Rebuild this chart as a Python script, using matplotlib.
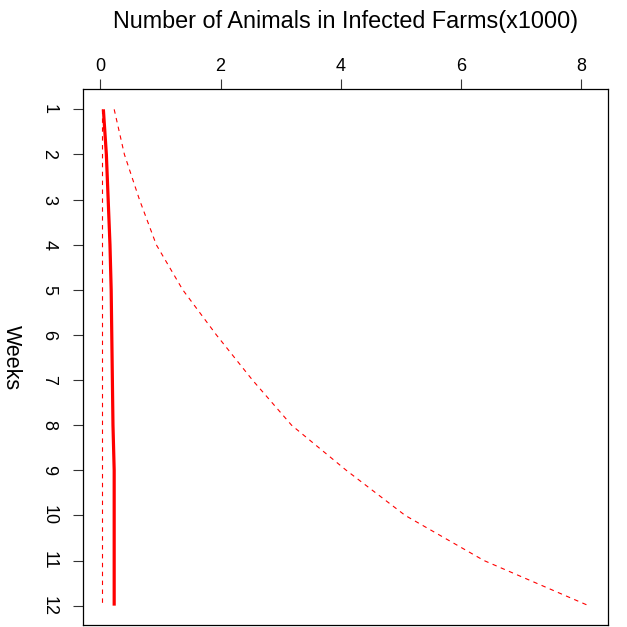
import matplotlib
matplotlib.use("Agg")
import matplotlib.pyplot as plt

weeks = [1, 2, 3, 4, 5, 6, 7, 8, 9, 10, 11, 12]
median = [0.05, 0.10, 0.13, 0.16, 0.18, 0.19, 0.20, 0.21, 0.23, 0.23, 0.23, 0.23]
lower = [0.03, 0.03, 0.03, 0.03, 0.03, 0.03, 0.03, 0.03, 0.03, 0.03, 0.03, 0.03]
upper = [0.23, 0.40, 0.65, 0.93, 1.37, 1.93, 2.53, 3.18, 4.09, 5.07, 6.38, 8.12]
x_ticks = [0, 2, 4, 6, 8]

plt.rcParams['font.family'] = ['Liberation Sans', 'DejaVu Sans']

fig = plt.figure(figsize=(6.27, 6.27), dpi=100)
ax = fig.add_axes([0.1319, 0.0024, 0.8378, 0.8549])

ax.plot(median, weeks, color='#FF0000', lw=2.3, solid_capstyle='butt')
ax.plot(lower, weeks, color='#FF0000', lw=0.8, ls=(0, (4, 4)))
ax.plot(upper, weeks, color='#FF0000', lw=0.8, ls=(0, (4, 4)))

# R-style 4% padding on both axes
xmin = min(lower + median + upper)
xmax = max(lower + median + upper)
dx = (xmax - xmin) * 0.04
ax.set_xlim(xmin - dx, xmax + dx)
dy = (max(weeks) - min(weeks)) * 0.04
ax.set_ylim(max(weeks) + dy, min(weeks) - dy)

ax.xaxis.tick_top()
ax.xaxis.set_label_position('top')
ax.set_xticks(x_ticks)
ax.set_xticklabels([str(v) for v in x_ticks])
ax.set_yticks(weeks)
ax.set_yticklabels([str(w) for w in weeks], rotation=-90, va='center')

ax.tick_params(axis='x', length=7.2, width=0.8, pad=3.5, labelsize=13, color='#333333')
ax.tick_params(axis='y', length=7.2, width=0.8, pad=11, labelsize=13, color='#333333')

ax.set_xlabel('Number of Animals in Infected Farms(x1000)', fontsize=16.8, labelpad=21)
ax.set_ylabel('Weeks', fontsize=15.5, rotation=-90, labelpad=21, va='center')

for s in ax.spines.values():
    s.set_linewidth(0.9)
    s.set_color('black')

fig.savefig('out.png', dpi=100)
